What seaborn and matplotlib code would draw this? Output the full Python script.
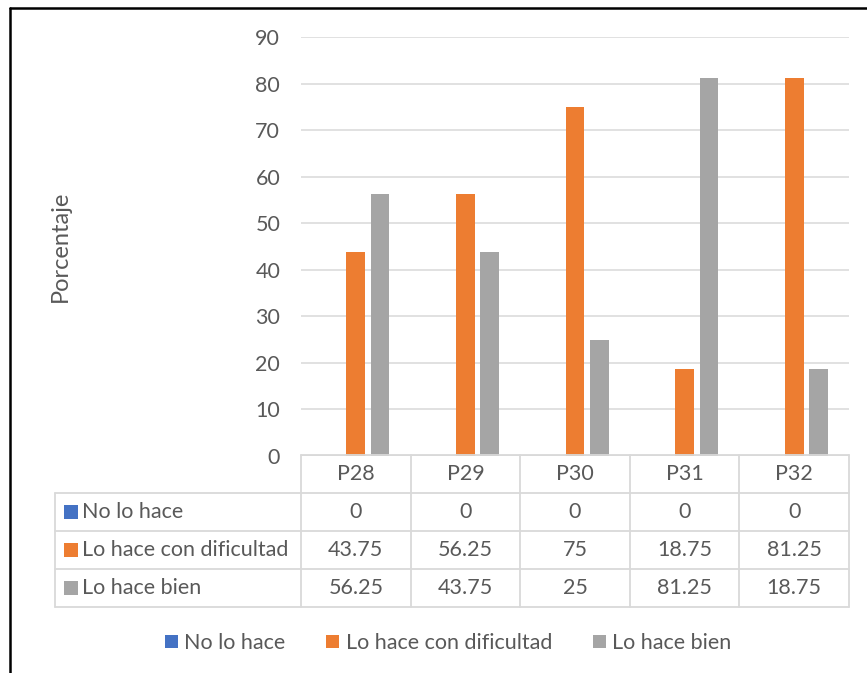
import matplotlib
matplotlib.use("Agg")
import matplotlib.pyplot as plt
from matplotlib.lines import Line2D
from matplotlib.patches import Rectangle
import seaborn as sns
import pandas as pd

# Data
preguntas = ["P28", "P29", "P30", "P31", "P32"]
respuestas = ["No lo hace", "Lo hace con dificultad", "Lo hace bien"]
no_lo_hace = [0, 0, 0, 0, 0]
con_dificultad = [43.75, 56.25, 75, 18.75, 81.25]
lo_hace_bien = [56.25, 43.75, 25, 81.25, 18.75]
y_ticks = [0, 10, 20, 30, 40, 50, 60, 70, 80, 90]

colores = ["#4472C4", "#ED7D31", "#A5A5A5"]
texto = "#595959"
linea = "#D9D9D9"

series = [no_lo_hace, con_dificultad, lo_hace_bien]
df = pd.DataFrame(
    [(p, r, v) for r, vals in zip(respuestas, series) for p, v in zip(preguntas, vals)],
    columns=["pregunta", "respuesta", "porcentaje"],
)

sns.set_theme(style="white")
plt.rcParams["font.family"] = ["Lato", "DejaVu Sans"]
FS = 15.5

W, H = 867, 673
fig = plt.figure(figsize=(W / 100, H / 100), dpi=100)

def px_box(x0, y0, x1, y1):
    return [x0 / W, 1 - y1 / H, (x1 - x0) / W, (y1 - y0) / H]

# Main bar chart
ax = fig.add_axes(px_box(301, 37, 849, 456))
sns.barplot(
    data=df, x="pregunta", y="porcentaje", hue="respuesta",
    order=preguntas, hue_order=respuestas, palette=colores, saturation=1,
    width=0.666, gap=0.235, linewidth=0, errorbar=None, ax=ax,
)
handles, labels = ax.get_legend_handles_labels()
if ax.get_legend() is not None:
    ax.get_legend().remove()

ax.set_ylim(0, 90)
ax.set_xlim(-0.5, len(preguntas) - 0.5)
ax.set_yticks(y_ticks)
ax.yaxis.grid(True, color=linea, linewidth=1.1)
ax.set_axisbelow(True)
for s in ax.spines.values():
    s.set_visible(False)
ax.tick_params(axis="y", length=0, pad=15, labelsize=FS, labelcolor=texto)
ax.tick_params(axis="x", length=0, labelbottom=False)
ax.set_xlabel("")
ax.set_ylabel("Porcentaje", fontsize=17, color=texto)
ax.yaxis.set_label_coords(-0.42, 0.5)

# Data table under the chart
unit = (849 - 301) / len(preguntas)
left_units = (301 - 55) / unit
tx = fig.add_axes(px_box(55, 455, 849, 607))
tx.set_xlim(-0.5 - left_units, len(preguntas) - 0.5)
tx.set_ylim(len(respuestas) + 0.5, -0.5)
tx.axis("off")
lw = 1.3
x_left = -0.5 - left_units
x_right = len(preguntas) - 0.5
n_rows = len(respuestas)
# horizontal lines
tx.plot([-0.5, x_right], [-0.5, -0.5], color=linea, lw=lw, clip_on=False)
for r in range(n_rows + 1):
    tx.plot([x_left, x_right], [r + 0.5, r + 0.5], color=linea, lw=lw, clip_on=False)
# vertical lines
tx.plot([x_left, x_left], [0.5, n_rows + 0.5], color=linea, lw=lw, clip_on=False)
for c in range(len(preguntas) + 1):
    tx.plot([c - 0.5, c - 0.5], [-0.5, n_rows + 0.5], color=linea, lw=lw, clip_on=False)
# header
for c, p in enumerate(preguntas):
    tx.text(c, 0, p, ha="center", va="center", fontsize=FS, color=texto)
# rows: colour key + series name + values
sq_w = 14 / unit
sq_h = 14 / 38
for r, (nombre, vals, col) in enumerate(zip(respuestas, series, colores), start=1):
    tx.add_patch(Rectangle((x_left + 9 / unit, r - sq_h / 2), sq_w, sq_h, color=col, lw=0))
    tx.text(x_left + 27 / unit, r, nombre, ha="left", va="center", fontsize=FS, color=texto)
    for c, v in enumerate(vals):
        tx.text(c, r, f"{v:g}", ha="center", va="center", fontsize=FS, color=texto)

# Legend
fig.legend(
    handles, labels, loc="center", bbox_to_anchor=(448 / W, 1 - 643 / H),
    ncol=3, frameon=False, fontsize=FS, labelcolor=texto,
    handlelength=0.6, handleheight=0.6, handletextpad=0.3, columnspacing=1.9,
)

# Chart frame
fig.add_artist(Line2D([10 / W, 1], [1 - 8 / H, 1 - 8 / H], color="black", lw=1.8,
                      transform=fig.transFigure))
fig.add_artist(Line2D([10 / W, 10 / W], [0, 1 - 8 / H], color="black", lw=1.8,
                      transform=fig.transFigure))

fig.savefig("out.png", dpi=100, facecolor="white")
